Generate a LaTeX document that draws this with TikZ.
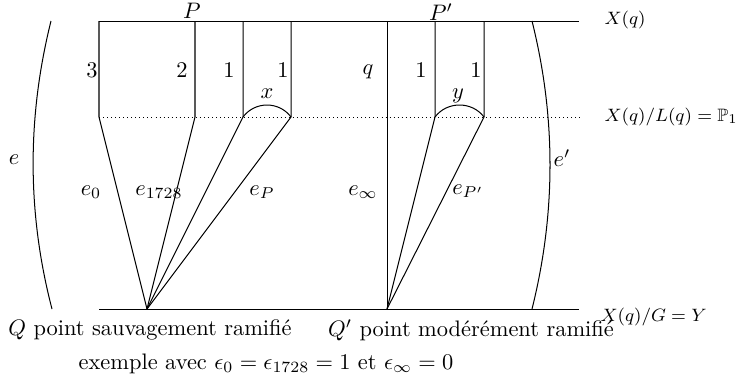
\documentclass[tikz,border=0pt]{standalone}
\usepackage{amssymb}
\begin{document}
\begin{tikzpicture}[x=0.446pt,y=-0.446pt,line width=0.45pt,
  lbl/.style={inner sep=0pt},
  side/.style={font=\footnotesize,inner sep=0pt,anchor=west},
  dotline/.style={dash pattern=on 0.4pt off 1.4pt}]
\useasboundingbox (0,0) rectangle (739,382);
% points
\coordinate (TL) at (99,21);   \coordinate (TR) at (579,21);
\coordinate (ML) at (99,117);  \coordinate (MR) at (582,117);
\coordinate (BL) at (99,309);  \coordinate (BR) at (579,309);
\coordinate (Q) at (147,309);  \coordinate (Qp) at (387,309);
\coordinate (a1) at (195,21);  \coordinate (a1m) at (195,117);
\coordinate (a2) at (243,21);  \coordinate (a2m) at (243,117);
\coordinate (a3) at (291,21);  \coordinate (a3m) at (291,117);
\coordinate (b0) at (387,21);
\coordinate (b1) at (435,21);  \coordinate (b1m) at (435,117);
\coordinate (b2) at (484,21);  \coordinate (b2m) at (484,117);
\coordinate (eT) at (51,21);   \coordinate (eB) at (52,309);
\coordinate (fT) at (532,21);  \coordinate (fB) at (532,309);
% horizontal lines
\draw (TL) -- (TR);
\draw[dotline] (ML) -- (MR);
\draw (BL) -- (BR);
% left block
\draw (TL) -- (ML) -- (Q);
\draw (a1) -- (a1m) -- (Q);
\draw (a2) -- (a2m) -- (Q);
\draw (a3) -- (a3m) -- (Q);
\draw (a2m) .. controls (255,101) and (279,101) .. (a3m);
% right block
\draw (b0) -- (Qp);
\draw (b1) -- (b1m) -- (Qp);
\draw (b2) -- (b2m) -- (Qp);
\draw (b1m) .. controls (447,101) and (472,101) .. (b2m);
% curves
\draw (eT) .. controls (27,117) and (27,213) .. (eB);
\draw (fT) .. controls (556,117) and (556,213) .. (fB);
% labels
\node[lbl] (lP) at (192,11) {$P$};
\node[lbl] (lPp) at (441,12) {$P'$};
\node[side] (lX) at (604,20) {$X(q)$};
\node[side] (lXL) at (604,117) {$X(q)/L(q)=\mathbb{P}_1$};
\node[side] (lXG) at (600,317) {$X(q)/G=Y$};
\node[lbl] (n3) at (92,70) {$3$};
\node[lbl] (n2) at (182,70) {$2$};
\node[lbl] (n1a) at (229,70) {$1$};
\node[lbl] (n1b) at (283,70) {$1$};
\node[lbl] (nq) at (368,72) {$q$};
\node[lbl] (n1c) at (421,70) {$1$};
\node[lbl] (n1d) at (476,70) {$1$};
\node[lbl] (lx) at (267,94) {$x$};
\node[lbl] (ly) at (458,96) {$y$};
\node[lbl] (le) at (14,160) {$e$};
\node[lbl] (lep) at (562,158) {$e'$};
\node[lbl] (le0) at (91,192) {$e_0$};
\node[lbl] (le1728) at (159,192) {$e_{1728}$};
\node[lbl] (leP) at (262,192) {$e_P$};
\node[lbl] (leinf) at (363,192) {$e_\infty$};
\node[lbl] (lePp) at (468,191) {$e_{P'}$};
\node[lbl] (tQ) at (150,330) {$Q$ point sauvagement ramifié};
\node[lbl] (tQp) at (471,330) {$Q'$ point modérément ramifié};
\node[lbl] (tex) at (266,364) {exemple avec $\epsilon_0=\epsilon_{1728}=1$ et $\epsilon_\infty=0$};
\end{tikzpicture}
\end{document}
